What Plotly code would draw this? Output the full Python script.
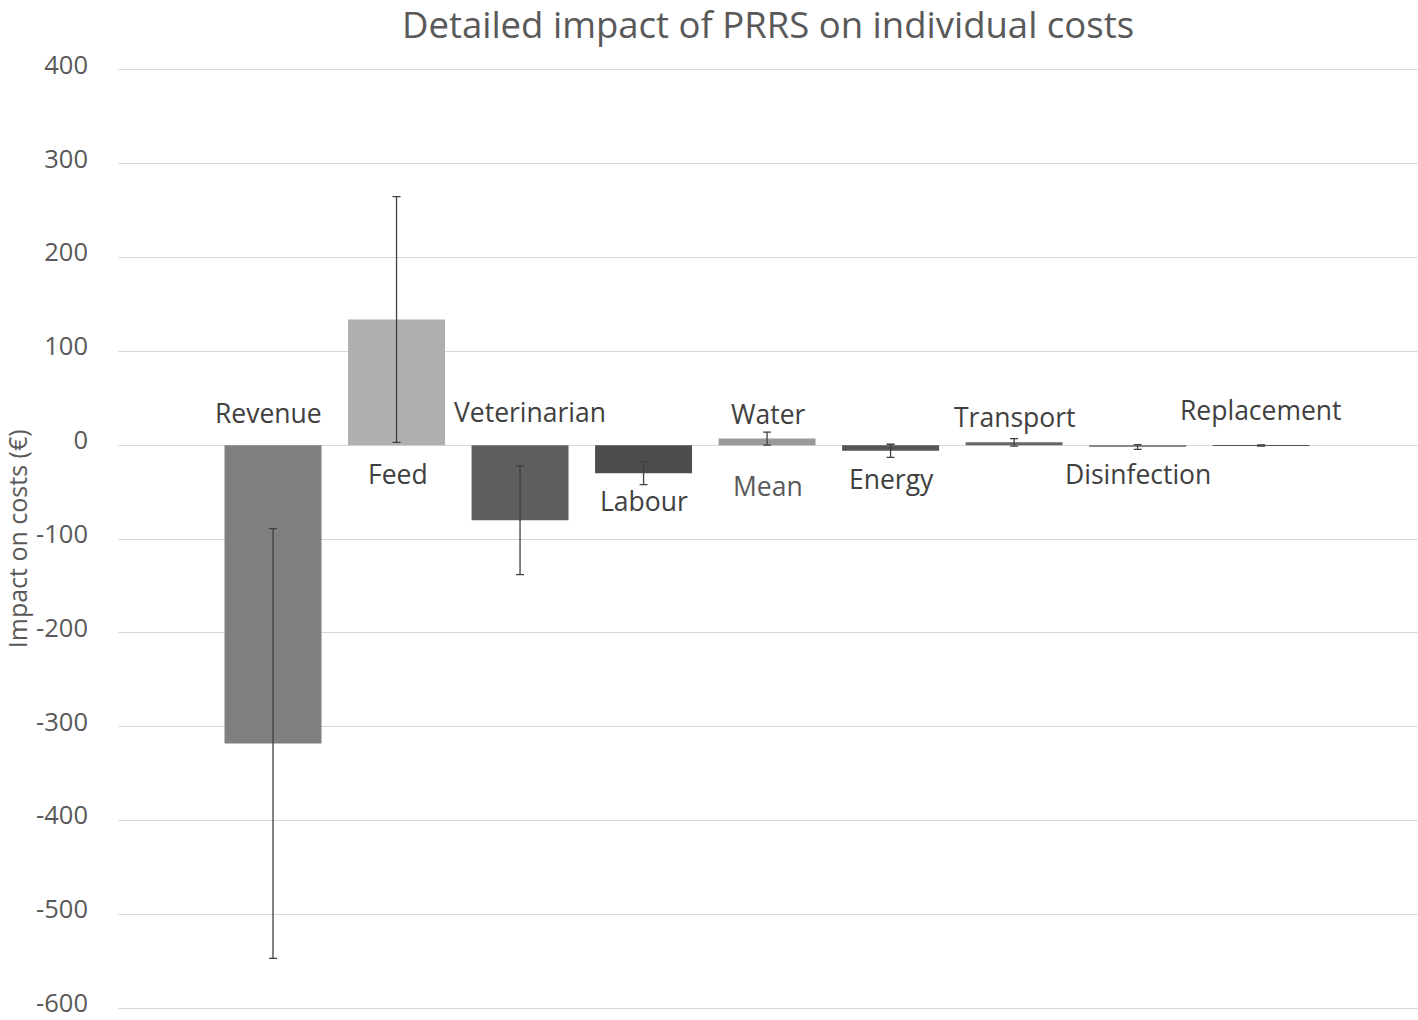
import plotly.graph_objects as go

categories = ["Revenue", "Feed", "Veterinarian", "Labour", "Water", "Energy",
              "Transport", "Disinfection", "Replacement"]
means = [-318, 134, -80, -30, 7, -6, 3, -2, -0.3]
errors = [229, 131, 58, 12, 7, 7, 4, 2.5, 0.6]
bar_colors = ["#7f7f7f", "#afafaf", "#5f5f5f", "#4d4d4d", "#9a9a9a",
              "#555555", "#666666", "#888888", "#555555"]
y_ticks = [-600, -500, -400, -300, -200, -100, 0, 100, 200, 300, 400]

# label placement (layout only)
label_y = [34, -31, 35, -59, 33, -36, 30, -31, 37]
label_xshift = [-5, 1, 10, 0, 1, 1, 0, 0, 0]

FONT = "Open Sans"

fig = go.Figure()
fig.add_trace(go.Bar(
    x=categories, y=means, width=0.785,
    marker=dict(color=bar_colors, line=dict(width=0)),
    error_y=dict(type="data", array=errors, visible=True,
                 color="#404040", thickness=1.3, width=4),
    name="Mean", showlegend=False,
))

annotations = []
for c, ly, xs in zip(categories, label_y, label_xshift):
    annotations.append(dict(x=c, y=ly, text=c, showarrow=False, xshift=xs,
                            font=dict(family=FONT, size=26.5, color="#404040")))
annotations.append(dict(x="Water", y=-43, text="Mean", showarrow=False, xshift=1,
                        font=dict(family=FONT, size=26.5, color="#595959")))
annotations.append(dict(xref="paper", yref="paper", x=-0.0775, y=0.5,
                        xanchor="center", yanchor="middle", textangle=-90,
                        text="Impact on costs (€)", showarrow=False,
                        font=dict(family=FONT, size=25, color="#595959")))

fig.update_layout(
    width=1418, height=1020,
    margin=dict(l=118, r=0, t=68, b=10, autoexpand=False),
    paper_bgcolor="white", plot_bgcolor="white",
    title=dict(text="Detailed impact of PRRS on individual costs",
               x=0.5, xanchor="center", xref="paper",
               y=1, yref="container", yanchor="top", pad=dict(t=12),
               font=dict(family=FONT, size=36.5, color="#595959")),
    annotations=annotations,
)
fig.update_xaxes(type="category", range=[-1.255, 9.27], showticklabels=False,
                 showgrid=False, zeroline=False, showline=False, ticks="",
                 automargin=False)
fig.update_yaxes(range=[-602, 402], tickvals=y_ticks,
                 ticktext=[str(v) for v in y_ticks],
                 showgrid=True, gridcolor="#d9d9d9", gridwidth=1.3,
                 zeroline=True, zerolinecolor="#d9d9d9", zerolinewidth=1.3,
                 showline=False, ticks="", ticklabelstandoff=29,
                 ticklabelshift=-5,
                 ticklabeloverflow="allow", automargin=False,
                 tickfont=dict(family=FONT, size=25.5, color="#595959"))

fig.write_html("out.html", config={"displayModeBar": False},
               post_script="document.body.style.margin='0';document.body.style.padding='0';")
